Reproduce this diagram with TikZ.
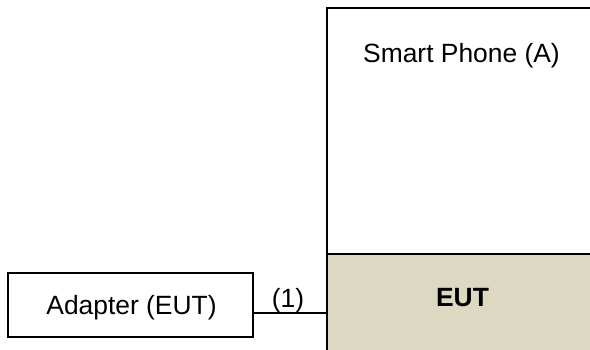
\documentclass[tikz,border=0pt]{standalone}
\usepackage{fontspec}
\setmainfont{Liberation Sans}
\definecolor{eutfill}{RGB}{221,216,194}
\begin{document}
\begin{tikzpicture}[x=1pt,y=1pt,
  frame/.style={draw=black, line width=2pt, rectangle, inner sep=0pt},
  adbox/.style={draw=black, line width=1.5pt, rectangle, inner sep=0pt, minimum width=245pt, minimum height=64pt},
  txt/.style={inner sep=0pt, anchor=base, font=\fontsize{26.4}{31}\selectfont},
  wire/.style={draw=black, line width=1.5pt}]
\useasboundingbox (0,0) rectangle (590,350);
\clip (0,0) rectangle (590,350);
% smart phone
\node[frame, fill=white, anchor=north west, minimum width=300pt, minimum height=246pt] (phone) at (326,343) {};
\node[frame, fill=eutfill, anchor=north west, minimum width=300pt, minimum height=140pt] (eut) at (326,97) {};
\node[txt] (phonetext) at (461.5,287.5) {Smart Phone (A)};
\node[txt, font=\fontsize{26.4}{31}\selectfont\bfseries] (euttext) at (462.5,43) {EUT};
% adapter
\node[adbox] (adapter) at (130.5,45) {};
\node[txt] (adtext) at (131.5,35.7) {Adapter (EUT)};
\coordinate (p1) at (326,37);
\draw[wire] (adapter.east |- p1) -- (p1);
\node[txt] (lbl) at (288,42.5) {(1)};
\end{tikzpicture}
\end{document}
